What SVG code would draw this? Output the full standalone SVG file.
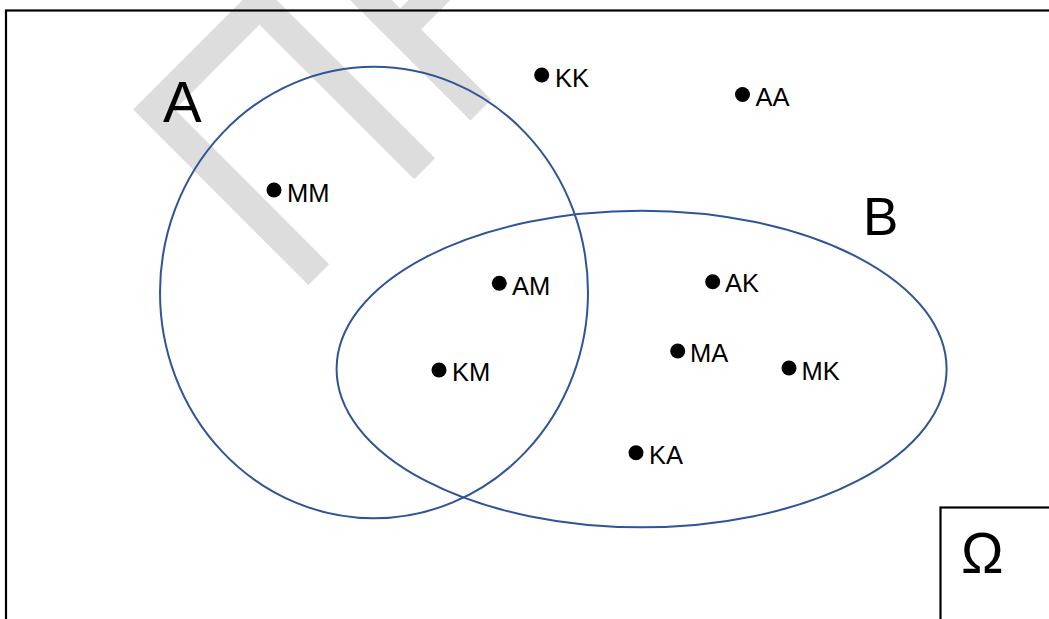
<svg xmlns="http://www.w3.org/2000/svg" width="1049" height="619" viewBox="0 0 1049 619">
  <style>
    .mark { fill: none; stroke: #dddddd; stroke-width: 29.5; stroke-linejoin: miter; stroke-linecap: butt; }
    .frame { fill: none; stroke: #000000; stroke-width: 2.2; }
    .set { fill: none; stroke: #2f5597; stroke-width: 2; }
    .dot { fill: #000000; }
    .lbl { font-family: "Liberation Sans", Arial, sans-serif; font-size: 25.5px; fill: #000000; }
    .big { font-family: "Liberation Sans", Arial, sans-serif; fill: #000000; }
  </style>

  <rect width="1049" height="619" fill="#ffffff"/>

  <!-- background watermark strokes -->
  <g id="watermark">
    <polyline class="mark" points="318.8,274.7 154,109.5 259.6,3.9 424.7,168.7"/>
    <polyline class="mark" points="330,-41 480.8,110"/>
    <line class="mark" x1="400.3" y1="29.2" x2="450" y2="-20.5"/>
  </g>

  <!-- universe frame -->
  <g id="universe">
    <rect class="frame" x="6" y="10.5" width="1060" height="630"/>
  </g>

  <!-- sets -->
  <g id="setA">
    <ellipse class="set" cx="374" cy="292.5" rx="214" ry="225.8"/>
    <text class="big" x="163" y="121.7" font-size="58">A</text>
  </g>
  <g id="setB">
    <ellipse class="set" cx="641.6" cy="369" rx="305" ry="158.3"/>
    <text class="big" x="863" y="235" font-size="53">B</text>
  </g>

  <!-- omega label box -->
  <g id="omega">
    <rect class="frame" x="940.5" y="507.5" width="130" height="130"/>
    <text class="big" x="961" y="573" font-size="57">Ω</text>
  </g>

  <!-- outcomes -->
  <g id="outcome-KK"><circle class="dot" cx="541.7" cy="75" r="7.5"/><text class="lbl" x="555" y="87">KK</text></g>
  <g id="outcome-AA"><circle class="dot" cx="742.5" cy="94.5" r="7.5"/><text class="lbl" x="755.5" y="106">AA</text></g>
  <g id="outcome-MM"><circle class="dot" cx="274" cy="190" r="7.5"/><text class="lbl" x="287" y="201.5">MM</text></g>
  <g id="outcome-AM"><circle class="dot" cx="499.3" cy="283.3" r="7.5"/><text class="lbl" x="512" y="294.5">AM</text></g>
  <g id="outcome-AK"><circle class="dot" cx="712.7" cy="281.7" r="7.5"/><text class="lbl" x="725" y="292">AK</text></g>
  <g id="outcome-MA"><circle class="dot" cx="677.7" cy="351" r="7.5"/><text class="lbl" x="690" y="362">MA</text></g>
  <g id="outcome-KM"><circle class="dot" cx="439" cy="370" r="7.5"/><text class="lbl" x="452" y="381">KM</text></g>
  <g id="outcome-MK"><circle class="dot" cx="789" cy="368" r="7.5"/><text class="lbl" x="801.5" y="379.5">MK</text></g>
  <g id="outcome-KA"><circle class="dot" cx="636" cy="452.7" r="7.5"/><text class="lbl" x="649" y="463.5">KA</text></g>

  <!-- connectors: none in this figure -->
  <g id="connectors"/>
</svg>
